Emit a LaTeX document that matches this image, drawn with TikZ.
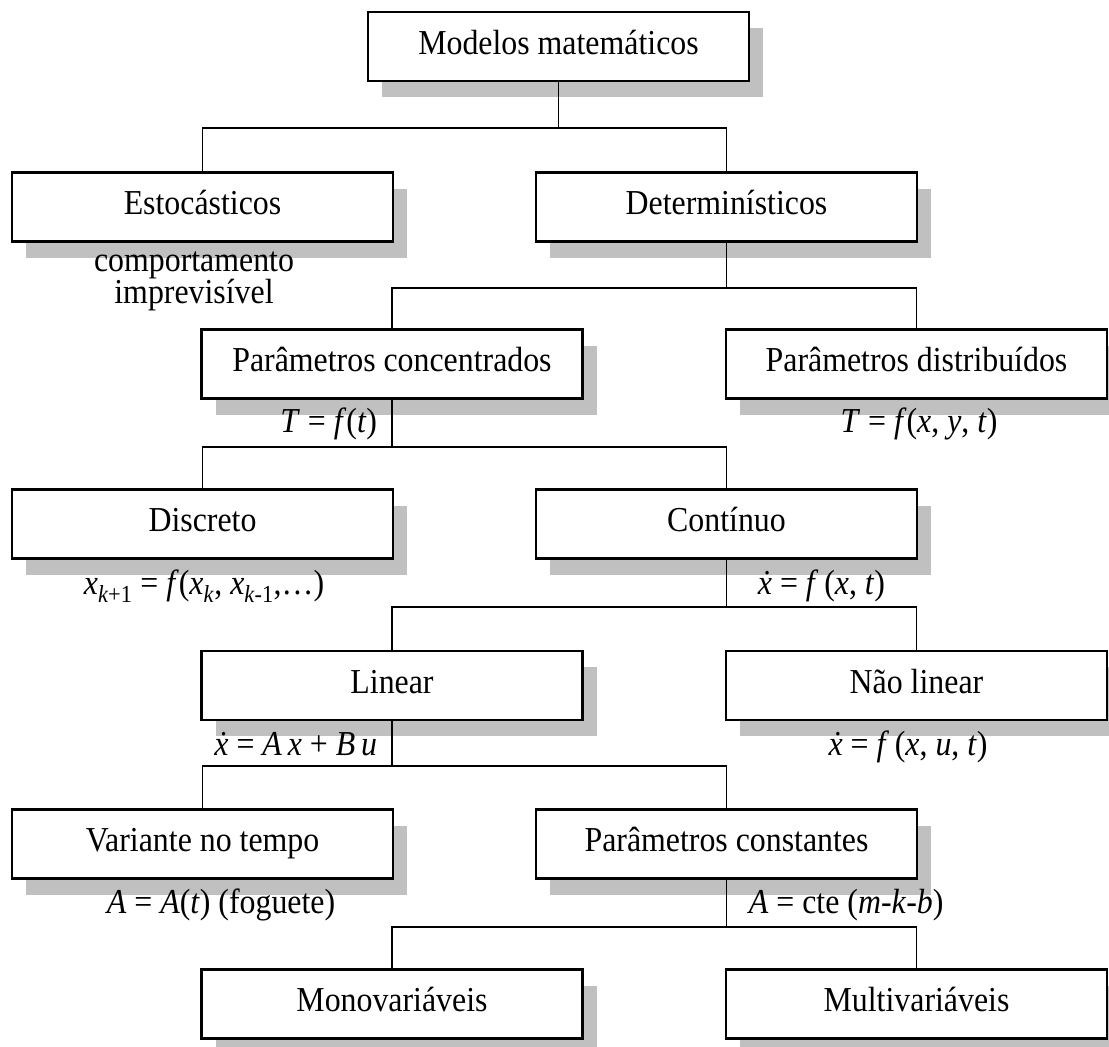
\documentclass[tikz,border=0pt]{standalone}
\usepackage{fontspec}
\setmainfont{Liberation Serif}[FakeStretch=0.91]
\usepackage{tikz}
\usetikzlibrary{shadows}
\usepackage{xcolor}
\definecolor{ShadowGray}{HTML}{C0C0C0}
\newcommand\nodemm{Modelos matemáticos}
\newcommand\nodeest{Estocásticos}
\newcommand\nodedet{Determinísticos}
\newcommand\nodepc{Parâmetros concentrados}
\newcommand\nodepd{Parâmetros distribuídos}
\newcommand\nodedisc{Discreto}
\newcommand\nodecont{Contínuo}
\newcommand\nodelin{Linear}
\newcommand\nodenlin{Não linear}
\newcommand\nodevar{Variante no tempo}
\newcommand\nodepcte{Parâmetros constantes}
\newcommand\nodemono{Monovariáveis}
\newcommand\nodemulti{Multivariáveis}
\newcommand\vi[1]{\textit{#1}}
\newcommand\xd{\textit{\.x}}
\tikzstyle{mynodestyle} = [rectangle, minimum width=381pt, minimum height=69pt, inner sep=0pt, text height=24pt, text depth=9pt, font=\fontsize{35}{35}\selectfont]
\tikzstyle{bx} = [mynodestyle, draw=black, fill=white, line width=2.2pt, drop shadow={shadow xshift=14pt, shadow yshift=-16pt, fill=ShadowGray, opacity=1}]
\tikzstyle{lb} = [inner sep=0pt, font=\fontsize{35}{32}\selectfont]
\tikzset{every picture/.style={line width=1.8pt}}
\begin{document}
\begin{tikzpicture}[x=1pt, y=-1pt]
\clip (0, 0) rectangle (1109, 1047);
\node[bx] (mm) at (558.5, 46.5) {\nodemm};
\node[bx] (est) at (202.5, 207) {\nodeest};
\node[bx] (det) at (726.5, 207) {\nodedet};
\node[bx] (pc) at (392, 364) {\nodepc};
\node[bx] (pd) at (916.5, 364) {\nodepd};
\node[bx] (disc) at (202.5, 524) {\nodedisc};
\node[bx] (cont) at (726.5, 524) {\nodecont};
\node[bx] (lin) at (392, 685.5) {\nodelin};
\node[bx] (nlin) at (916.5, 685.5) {\nodenlin};
\node[bx] (var) at (202.5, 844) {\nodevar};
\node[bx] (pcte) at (726.5, 844) {\nodepcte};
\node[bx] (mono) at (392, 1004) {\nodemono};
\node[bx] (multi) at (916.5, 1004) {\nodemulti};
\node[lb, align=center, anchor=base] (eqest) at (194, 303) {comportamento\\imprevisível};
\node[lb, anchor=base east] (eqpc) at (378, 432) {\vi{T} = \vi{f}(\vi{t})};
\node[lb, anchor=base] (eqpd) at (919, 432) {\vi{T} = \vi{f}(\vi{x}, \vi{y}, \vi{t})};
\node[lb, anchor=base] (eqdisc) at (204, 594) {\vi{x}\textsubscript{\vi{k}+1} = \vi{f}(\vi{x}\textsubscript{\vi{k}}, \vi{x}\textsubscript{\vi{k}-1},…)};
\node[lb, anchor=base west] (eqcont) at (757, 594) {\xd\ = \vi{f}\,(\vi{x}, \vi{t})};
\node[lb, anchor=base east] (eqlin) at (378, 755) {\xd\ = \vi{A}\,\vi{x} + \vi{B}\,\vi{u}};
\node[lb, anchor=base] (eqnlin) at (908, 755) {\xd\ = \vi{f}\,(\vi{x}, \vi{u}, \vi{t})};
\node[lb, anchor=base] (eqvar) at (221, 913) {\vi{A} = \vi{A}(\vi{t}) (foguete)};
\node[lb, anchor=base west] (eqpcte) at (748, 913) {\vi{A} = cte (\vi{m}-\vi{k}-\vi{b})};
\draw (mm.south) -- ++(0, 46) -| (est.north);
\draw (mm.south) -- ++(0, 46) -| (det.north);
\draw (det.south) -- ++(0, 45) -| (pc.north);
\draw (det.south) -- ++(0, 45) -| (pd.north);
\draw (pc.south) -- ++(0, 47) -| (disc.north);
\draw (pc.south) -- ++(0, 47) -| (cont.north);
\draw (cont.south) -- ++(0, 47) -| (lin.north);
\draw (cont.south) -- ++(0, 47) -| (nlin.north);
\draw (lin.south) -- ++(0, 45) -| (var.north);
\draw (lin.south) -- ++(0, 45) -| (pcte.north);
\draw (pcte.south) -- ++(0, 47) -| (mono.north);
\draw (pcte.south) -- ++(0, 47) -| (multi.north);
\end{tikzpicture}
\end{document}
